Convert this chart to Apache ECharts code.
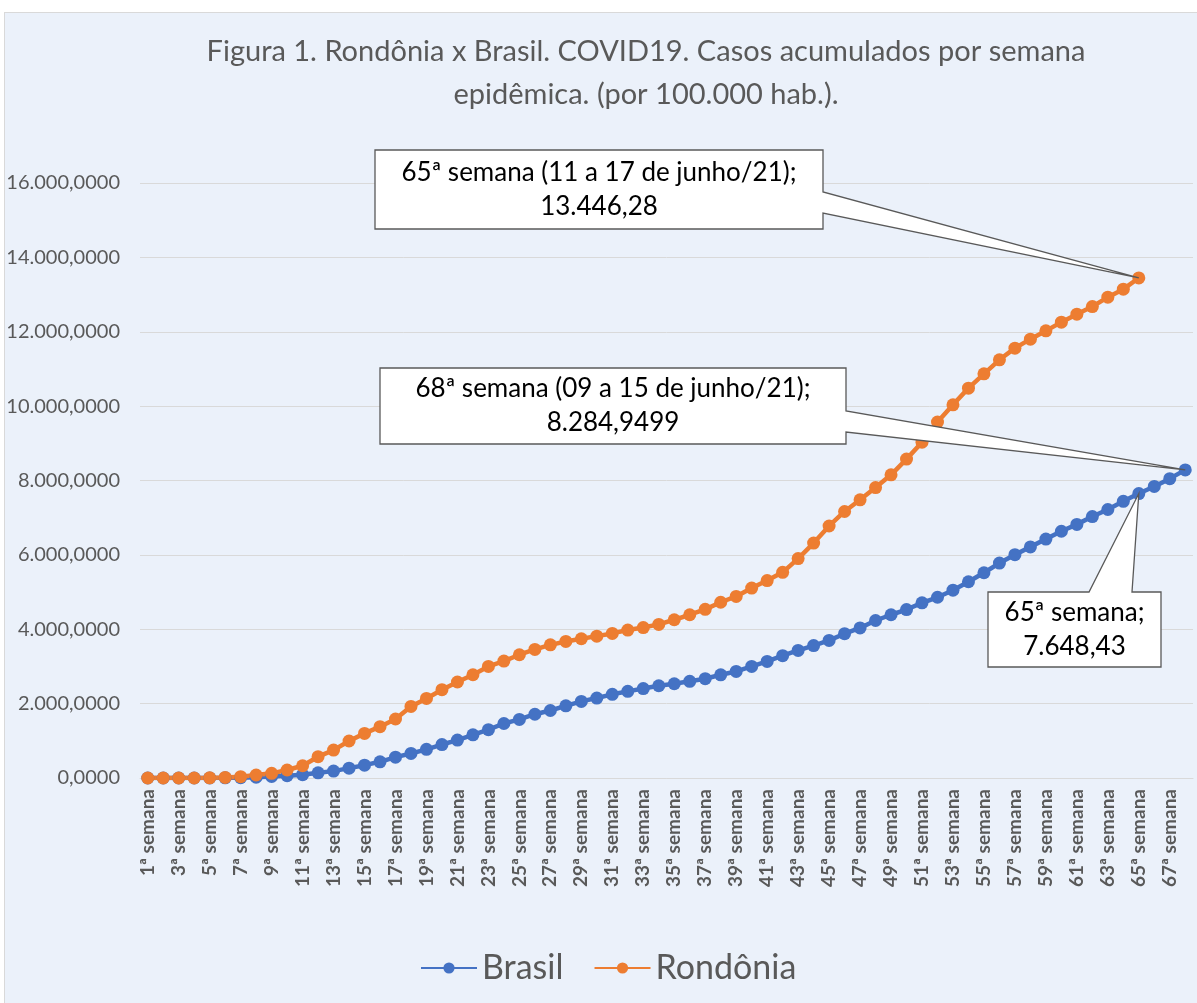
<!DOCTYPE html>
<html>
<head>
<meta charset="utf-8">
<script src="https://cdn.jsdelivr.net/npm/echarts@6/dist/echarts.min.js"></script>
<style>
html, body { margin: 0; padding: 0; background: #fff; }
#painel { position: absolute; left: 4px; top: 12px; width: 1200px; height: 1000px; background: #EBF1FA; border: 1px solid #D9D9D9; }
#grafico { position: absolute; left: 0; top: 0; width: 1197px; height: 1003px; }
</style>
</head>
<body>
<div id="painel"></div>
<div id="grafico"></div>
<script>
// semanas epidemiologicas (rotulos do eixo x)
var semanas = [];
for (var i = 1; i <= 68; i++) { semanas.push(i + 'ª semana'); }

// casos acumulados por 100.000 hab.
var brasil = [
    0, 0, 0.1, 0.5, 2, 5, 10, 20, 40, 60,
    90, 140, 185, 265, 345, 435, 560, 660, 770, 900,
    1020, 1160, 1300, 1465, 1575, 1715, 1815, 1940, 2060, 2150,
    2250, 2330, 2405, 2480, 2535, 2600, 2670, 2775, 2865, 3000,
    3135, 3290, 3430, 3560, 3700, 3880, 4035, 4235, 4390, 4530,
    4710, 4860, 5050, 5277, 5519, 5780, 6005, 6215, 6425, 6635,
    6820, 7030, 7220, 7440, 7648.43, 7840, 8050, 8284.9499
];
var rondonia = [
    0, 0, 0, 0, 5, 15, 35, 80, 125, 215,
    330, 573, 750, 995, 1200, 1380, 1586, 1925, 2140, 2374,
    2581, 2777, 3000, 3145, 3315, 3458, 3580, 3672, 3745, 3815,
    3888, 3978, 4045, 4130, 4255, 4390, 4535, 4726, 4882, 5108,
    5310, 5530, 5900, 6317, 6777, 7167, 7481, 7810, 8153, 8575,
    9030, 9570, 10035, 10484, 10868, 11245, 11559, 11801, 12024, 12258,
    12473, 12677, 12930, 13145, 13446.28
];

// eixo y
var yMin = 0, yMax = 16000, yPasso = 2000;

// textos das chamadas: serie, indice do ponto, linhas
var notaSerie = [1, 0, 0];
var notaIndice = [64, 67, 64];
var notaTexto = [
    ['65ª semana (11 a 17 de junho/21);', '13.446,28'],
    ['68ª semana (09 a 15 de junho/21);', '8.284,9499'],
    ['65ª semana;', '7.648,43']
];

var titulo = ['Figura 1. Rondônia x Brasil. COVID19. Casos acumulados por semana', 'epidêmica. (por 100.000 hab.).'];

function formataNumero(v) {
    var inteiro = Math.round(v).toString().replace(/\B(?=(\d{3})+(?!\d))/g, '.');
    return inteiro + ',0000';
}

var fonte = 'Lato, "Open Sans", sans-serif';
var myChart = echarts.init(document.getElementById('grafico'));

var option = {
    backgroundColor: 'transparent',
    animation: false,
    grid: { left: 140, right: 4, top: 183, bottom: 225, containLabel: false },
    legend: {
        data: ['Brasil', 'Rondônia'],
        left: 415,
        top: 946,
        itemWidth: 56,
        itemHeight: 14,
        itemGap: 30,
        textStyle: { fontSize: 34, color: '#595959', fontFamily: fonte }
    },
    xAxis: {
        type: 'category',
        data: semanas,
        boundaryGap: true,
        axisLine: { lineStyle: { color: '#D9D9D9', width: 1 } },
        axisTick: { show: false },
        axisLabel: {
            interval: 1,
            rotate: 90,
            color: '#595959',
            fontWeight: 'bold',
            fontSize: 19,
            fontFamily: fonte,
            margin: 11
        },
        splitLine: { show: false }
    },
    yAxis: {
        type: 'value',
        min: yMin,
        max: yMax,
        interval: yPasso,
        axisLine: { show: false },
        axisTick: { show: false },
        axisLabel: {
            color: '#595959',
            fontSize: 20,
            fontFamily: fonte,
            margin: 20,
            formatter: formataNumero
        },
        splitLine: { lineStyle: { color: '#D9D9D9', width: 1 } }
    },
    series: [
        {
            name: 'Brasil',
            type: 'line',
            data: brasil,
            symbol: 'circle',
            symbolSize: 13,
            showAllSymbol: true,
            itemStyle: { color: '#4472C4' },
            lineStyle: { color: '#4472C4', width: 4.5 }
        },
        {
            name: 'Rondônia',
            type: 'line',
            data: rondonia,
            symbol: 'circle',
            symbolSize: 13,
            showAllSymbol: true,
            itemStyle: { color: '#ED7D31' },
            lineStyle: { color: '#ED7D31', width: 4.5 }
        }
    ]
};
myChart.setOption(option);

// chamadas (caixa com ponteiro ate o ponto)
var caixas = [
    { x0: 375, y0: 150, x1: 823, y1: 229, lado: 'direita', a: 192, b: 213 },
    { x0: 380, y0: 368, x1: 846, y1: 444, lado: 'direita', a: 411, b: 432 },
    { x0: 988, y0: 592, x1: 1161, y1: 667, lado: 'topo', a: 1089, b: 1132 }
];
var series = [brasil, rondonia];
var graficos = [];
caixas.forEach(function (c, k) {
    var idx = notaIndice[k];
    var ponta = myChart.convertToPixel({ seriesIndex: notaSerie[k] }, [idx, series[notaSerie[k]][idx]]);
    var pts;
    if (c.lado === 'direita') {
        pts = [[c.x0, c.y0], [c.x1, c.y0], [c.x1, c.a], ponta, [c.x1, c.b], [c.x1, c.y1], [c.x0, c.y1]];
    } else {
        pts = [[c.x0, c.y0], [c.a, c.y0], ponta, [c.b, c.y0], [c.x1, c.y0], [c.x1, c.y1], [c.x0, c.y1]];
    }
    graficos.push({
        type: 'polygon', z: 100,
        shape: { points: pts },
        style: { fill: '#fff', stroke: '#595959', lineWidth: 1.3 }
    });
    var cx = (c.x0 + c.x1) / 2;
    var alturaLinha = 34;
    var meio = (c.y0 + c.y1) / 2;
    notaTexto[k].forEach(function (t, j) {
        graficos.push({
            type: 'text', z: 101,
            style: {
                text: t, x: cx, y: meio + (j - 0.5) * alturaLinha,
                fill: '#000', font: '26px ' + fonte,
                align: 'center', verticalAlign: 'middle'
            }
        });
    });
});
titulo.forEach(function (t, j) {
    graficos.push({
        type: 'text', z: 101,
        style: {
            text: t, x: 646, y: 52 + j * 43,
            fill: '#595959', font: '29px ' + fonte,
            align: 'center', verticalAlign: 'middle'
        }
    });
});
myChart.setOption({ graphic: graficos });
</script>
</body>
</html>
